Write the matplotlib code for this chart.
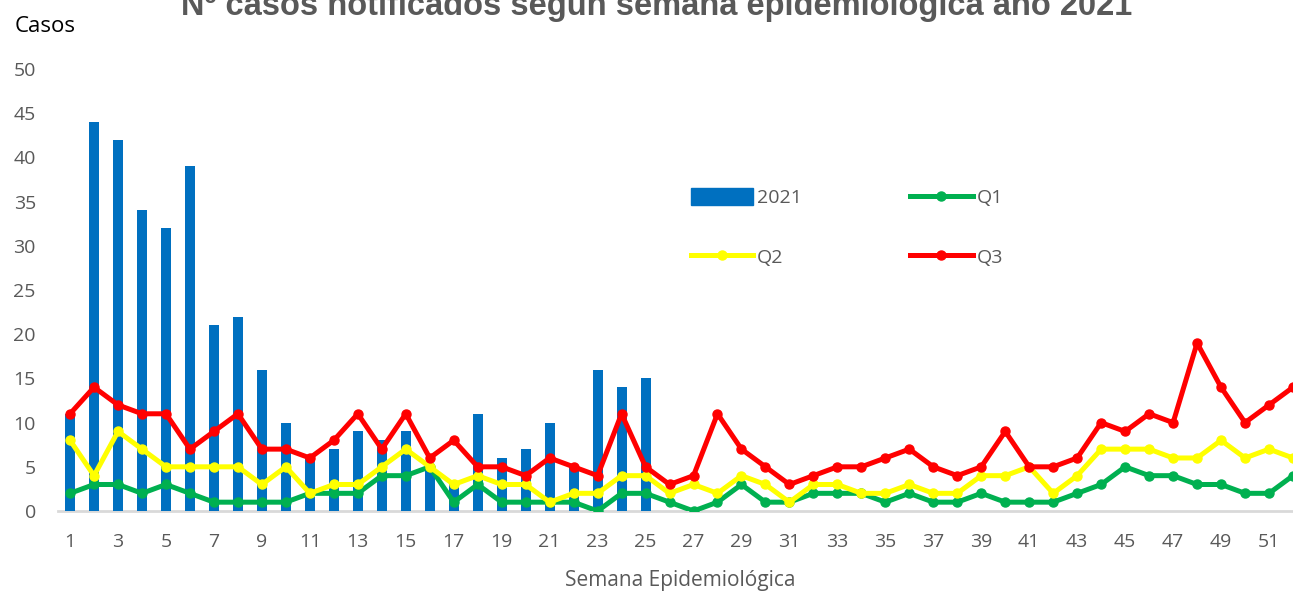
import matplotlib
matplotlib.use("Agg")
import matplotlib.pyplot as plt
from matplotlib.lines import Line2D
from matplotlib.patches import Patch

plt.rcParams["font.family"] = ["Open Sans", "DejaVu Sans"]

weeks = list(range(1, 53))
bar_weeks = list(range(1, 26))
cases_2021 = [11, 44, 42, 34, 32, 39, 21, 22, 16, 10, 6, 7, 9, 8, 9, 5, 3, 11, 6, 7,
              10, 5, 16, 14, 15]
q1 = [2, 3, 3, 2, 3, 2, 1, 1, 1, 1, 2, 2, 2, 4, 4, 5, 1, 3, 1, 1,
      1, 1, 0, 2, 2, 1, 0, 1, 3, 1, 1, 2, 2, 2, 1, 2, 1, 1, 2, 1,
      1, 1, 2, 3, 5, 4, 4, 3, 3, 2, 2, 4]
q2 = [8, 4, 9, 7, 5, 5, 5, 5, 3, 5, 2, 3, 3, 5, 7, 5, 3, 4, 3, 3,
      1, 2, 2, 4, 4, 2, 3, 2, 4, 3, 1, 3, 3, 2, 2, 3, 2, 2, 4, 4,
      5, 2, 4, 7, 7, 7, 6, 6, 8, 6, 7, 6]
q3 = [11, 14, 12, 11, 11, 7, 9, 11, 7, 7, 6, 8, 11, 7, 11, 6, 8, 5, 5, 4,
      6, 5, 4, 11, 5, 3, 4, 11, 7, 5, 3, 4, 5, 5, 6, 7, 5, 4, 5, 9,
      5, 5, 6, 10, 9, 11, 10, 19, 14, 10, 12, 14]
x_ticks = list(range(1, 53, 2))
y_ticks = list(range(0, 51, 5))

GRAY = "#595959"

fig = plt.figure(figsize=(12.93, 5.92), dpi=100)
ax = fig.add_axes([0.0449, 0.1368, 0.9551, 0.7466])

ax.bar(bar_weeks, cases_2021, width=0.42, color="#0070C0", zorder=2)
line_kw = dict(linewidth=3.6, marker="o", markersize=6.5, solid_capstyle="round",
               solid_joinstyle="round", zorder=3)
ax.plot(weeks, q1, color="#00B050", **line_kw)
ax.plot(weeks, q2, color="#FFFF00", **line_kw)
ax.plot(weeks, q3, color="#FF0000", **line_kw)

ax.set_xlim(0.5, 52.0)
ax.set_ylim(0, 50)
ax.set_xticks(x_ticks)
ax.set_yticks(y_ticks)
ax.tick_params(axis="both", length=0, labelsize=14, labelcolor=GRAY)
ax.tick_params(axis="x", pad=16)
ax.tick_params(axis="y", pad=16)
for side in ["top", "right", "left"]:
    ax.spines[side].set_visible(False)
ax.spines["bottom"].set_color("#D9D9D9")
ax.spines["bottom"].set_linewidth(2)
ax.spines["bottom"].set_zorder(1)

handles = [
    Patch(color="#0070C0", label="2021"),
    Line2D([], [], color="#FFFF00", linewidth=3.6, marker="o", markersize=6.5, label="Q2"),
    Line2D([], [], color="#00B050", linewidth=3.6, marker="o", markersize=6.5, label="Q1"),
    Line2D([], [], color="#FF0000", linewidth=3.6, marker="o", markersize=6.5, label="Q3"),
]
leg = fig.legend(handles=handles, ncol=2, loc="upper left",
                 bbox_to_anchor=(0.5205, 0.712), frameon=False, fontsize=14,
                 handlelength=3.2, handleheight=1.0, columnspacing=5.6,
                 labelspacing=2.05, handletextpad=0.2, labelcolor=GRAY)

fig.text(0.0116, 0.955, "Casos", fontsize=16, color="black", va="center", ha="left")
fig.text(0.526, 0.02, "Semana Epidemiológica", fontsize=15, color=GRAY,
         ha="center", va="center")
fig.text(0.508, 0.9747, "Nº casos notificados según semana epidemiológica año 2021",
         fontsize=23.5, fontweight="bold", color=GRAY, ha="center", va="baseline",
         family=["Liberation Sans", "DejaVu Sans"])

fig.savefig("out.png", dpi=100)
